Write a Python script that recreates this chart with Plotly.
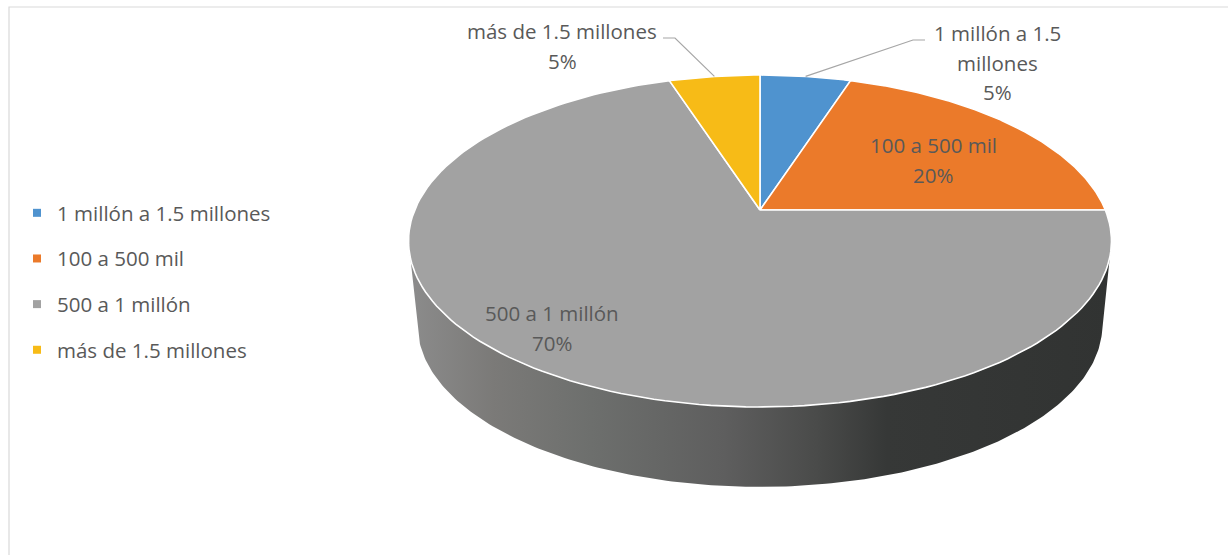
import textwrap
import numpy as np
import plotly.graph_objects as go

# ---- data ----
categories = ["1 millón a 1.5 millones", "100 a 500 mil", "500 a 1 millón", "más de 1.5 millones"]
shares = [5, 20, 70, 5]  # percent
colors = ["#4F93CF", "#EB7A2A", "#A2A2A2", "#F7BB17"]

# ---- geometry of the tilted pie (screen pixels) ----
W, H = 1228, 555
CX, CY = 760, 210            # pie centre
A, B, K = 345.3, 160.2, 0.1867   # half width, half depth, perspective factor
DEPTH, BOTTOM_SCALE = 85, 0.974  # thickness of the disc and far-plane shrink

side_scale = [[0.00, "#8C8C8C"], [0.12, "#7B7A78"], [0.26, "#6D6F6D"], [0.45, "#5E5E5E"],
              [0.58, "#4A4B4A"], [0.68, "#363837"], [1.00, "#313332"]]

TEXT_COLOR = "#595959"
FONT = "'Open Sans', 'Noto Sans', sans-serif"
FS = 20.5

# label placement: centre x, first line y, wrap width
label_layout = [
    dict(x=997, y=33, wrap=14, leader=[(913, 40), (925, 40)]),
    dict(x=933, y=145, wrap=20, leader=None),
    dict(x=552, y=313, wrap=20, leader=None),
    dict(x=562, y=31, wrap=20, leader=[(675, 38), (663, 38)]),
]
LINE_H = 29.5


def project(theta, drop=0.0, scale=1.0):
    u, v = np.sin(theta), np.cos(theta)
    den = 1 + K * v
    return CX + scale * A * u / den, CY + drop - scale * B * v / den


fig = go.Figure()

total = sum(shares)
edges = np.concatenate([[0], np.cumsum(shares)]) / total * 2 * np.pi

# front wall of the disc (visible between the two horizontal extremes)
front_lo = np.arccos(-K)
front_hi = 2 * np.pi - front_lo
for i, cat in enumerate(categories):
    t0, t1 = max(edges[i], front_lo), min(edges[i + 1], front_hi)
    if t1 <= t0:
        continue
    th = np.linspace(t0, t1, 200)
    xt, yt = project(th)
    xb, yb = project(th[::-1], DEPTH, BOTTOM_SCALE)
    xs = np.concatenate([xt, xb, xt[:1]])
    ys = np.concatenate([yt, yb, yt[:1]])
    fig.add_trace(go.Scatter(
        x=xs, y=ys, mode="lines", fill="toself",
        line=dict(width=0, color="rgba(0,0,0,0)"),
        fillgradient=dict(type="horizontal", colorscale=side_scale,
                          start=float(xs.min()), stop=float(xs.max())),
        hoverinfo="skip", showlegend=False))

# top face slices
for i, cat in enumerate(categories):
    th = np.linspace(edges[i], edges[i + 1], 160)
    xa, ya = project(th)
    xs = np.concatenate([[CX], xa, [CX]])
    ys = np.concatenate([[CY], ya, [CY]])
    fig.add_trace(go.Scatter(
        x=xs, y=ys, mode="lines", fill="toself", fillcolor=colors[i],
        line=dict(color="white", width=1.6), hoverinfo="skip", showlegend=False))

# leader lines for the outside labels
for i, lay in enumerate(label_layout):
    if lay["leader"] is None:
        continue
    mid = (edges[i] + edges[i + 1]) / 2
    mx, my = project(mid)
    pts = [(mx, my)] + lay["leader"]
    fig.add_trace(go.Scatter(
        x=[p[0] for p in pts], y=[p[1] for p in pts], mode="lines",
        line=dict(color="#A6A6A6", width=1.2), hoverinfo="skip", showlegend=False))

# legend entries
for i, cat in enumerate(categories):
    fig.add_trace(go.Scatter(
        x=[None], y=[None], mode="markers", name=cat, legendgroup=cat,
        marker=dict(symbol="square", size=8, color=colors[i]), showlegend=True))

# data labels
annotations = []
for i, cat in enumerate(categories):
    lay = label_layout[i]
    lines = textwrap.wrap(cat, lay["wrap"]) + [f"{shares[i]}%"]
    for j, line in enumerate(lines):
        annotations.append(dict(
            x=lay["x"], y=lay["y"] + j * LINE_H, xref="x", yref="y", text=line,
            showarrow=False, xanchor="center", yanchor="middle",
            font=dict(family=FONT, size=FS, color=TEXT_COLOR)))

fig.update_layout(
    width=W, height=H, margin=dict(l=0, r=0, t=0, b=0),
    paper_bgcolor="white", plot_bgcolor="white",
    xaxis=dict(range=[0, W], visible=False, fixedrange=True),
    yaxis=dict(range=[H, 0], visible=False, fixedrange=True),
    annotations=annotations,
    shapes=[dict(type="rect", xref="x", yref="y", x0=9, y0=7, x1=W + 20, y1=H + 20,
                 line=dict(color="#D9D9D9", width=1.2), layer="below")],
    legend=dict(x=17 / W, y=1 - 193 / H, xanchor="left", yanchor="top",
                traceorder="grouped", tracegroupgap=16,
                font=dict(family=FONT, size=FS, color=TEXT_COLOR),
                bgcolor="rgba(0,0,0,0)"),
    showlegend=True,
)

fig.write_html("out.html")
